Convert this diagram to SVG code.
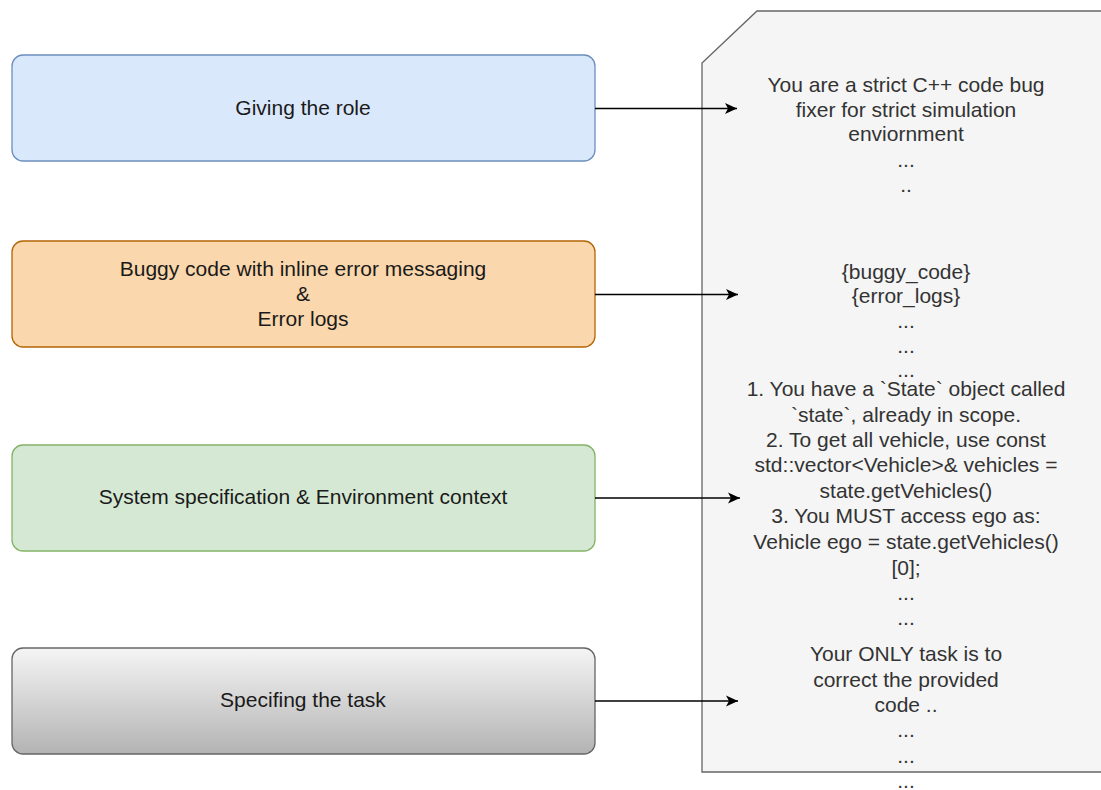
<svg xmlns="http://www.w3.org/2000/svg" width="1101" height="790" viewBox="0 0 1101 790">
  <style>
    .lbl { font-family: "Liberation Sans", Arial, Helvetica, sans-serif; font-size: 21px; fill: #1a1a1a; text-anchor: middle; }
    .note { font-family: "Liberation Sans", Arial, Helvetica, sans-serif; font-size: 21px; fill: #333333; text-anchor: middle; }
    .box { stroke-width: 1.3; }
    .edge { stroke: #000000; stroke-width: 1.4; fill: none; marker-end: url(#arrow); }
  </style>
  <defs>
    <marker id="arrow" markerWidth="14" markerHeight="12" refX="12" refY="6" orient="auto" markerUnits="userSpaceOnUse">
      <path d="M0,0.5 L12,6 L0,11.5 L3,6 Z" fill="#000000"/>
    </marker>
    <linearGradient id="greyFill" x1="0" y1="0" x2="0" y2="1">
      <stop offset="0" stop-color="#f5f5f5"/>
      <stop offset="1" stop-color="#b3b3b3"/>
    </linearGradient>
  </defs>
  <rect width="1101" height="790" fill="#ffffff"/>

  <!-- prompt document with clipped top-left corner -->
  <g id="prompt">
    <polygon points="702,63 757,11 1110,11 1110,772 702,772" fill="#f5f5f5" stroke="#666666" stroke-width="1.3"/>
    <text class="note" x="906" y="92">You are a strict C++ code bug</text>
    <text class="note" x="906" y="117">fixer for strict simulation</text>
    <text class="note" x="906" y="141">enviornment</text>
    <text class="note" x="906" y="167">...</text>
    <text class="note" x="906" y="192">..</text>
    <text class="note" x="906" y="279">{buggy_code}</text>
    <text class="note" x="906" y="303">{error_logs}</text>
    <text class="note" x="906" y="328">...</text>
    <text class="note" x="906" y="353">...</text>
    <text class="note" x="906" y="377">...</text>
    <text class="note" x="906" y="396">1. You have a `State` object called</text>
    <text class="note" x="906" y="422">`state`, already in scope.</text>
    <text class="note" x="906" y="447">2. To get all vehicle, use const</text>
    <text class="note" x="906" y="472">std::vector&lt;Vehicle&gt;&amp; vehicles =</text>
    <text class="note" x="906" y="498">state.getVehicles()</text>
    <text class="note" x="906" y="523">3. You MUST access ego as:</text>
    <text class="note" x="906" y="549">Vehicle ego = state.getVehicles()</text>
    <text class="note" x="906" y="575">[0];</text>
    <text class="note" x="906" y="600">...</text>
    <text class="note" x="906" y="625">...</text>
    <text class="note" x="906" y="661">Your ONLY task is to</text>
    <text class="note" x="906" y="687">correct the provided</text>
    <text class="note" x="906" y="712">code ..</text>
    <text class="note" x="906" y="737">...</text>
    <text class="note" x="906" y="763">...</text>
    <text class="note" x="906" y="788">...</text>
  </g>

  <g id="role">
    <rect class="box" x="12" y="55" width="583" height="106" rx="11" fill="#dae8fc" stroke="#6c8ebf"/>
    <text class="lbl" x="303" y="115">Giving the role</text>
  </g>

  <g id="buggy-code">
    <rect class="box" x="12" y="241" width="583" height="106" rx="11" fill="#fad7ac" stroke="#b46504"/>
    <text class="lbl" x="303" y="276">Buggy code with inline error messaging</text>
    <text class="lbl" x="303" y="301">&amp;</text>
    <text class="lbl" x="303" y="326">Error logs</text>
  </g>

  <g id="system-spec">
    <rect class="box" x="12" y="445" width="583" height="106" rx="11" fill="#d5e8d4" stroke="#82b366"/>
    <text class="lbl" x="303" y="504">System specification &amp; Environment context</text>
  </g>

  <g id="task">
    <rect class="box" x="12" y="648" width="583" height="106" rx="11" fill="url(#greyFill)" stroke="#666666"/>
    <text class="lbl" x="303" y="707">Specifing the task</text>
  </g>

  <g id="connectors">
    <line class="edge" x1="595" y1="108.5" x2="737" y2="108.5"/>
    <line class="edge" x1="595" y1="294.5" x2="738" y2="294.5"/>
    <line class="edge" x1="595" y1="498" x2="740" y2="498"/>
    <line class="edge" x1="595" y1="701" x2="738" y2="701"/>
  </g>
</svg>
